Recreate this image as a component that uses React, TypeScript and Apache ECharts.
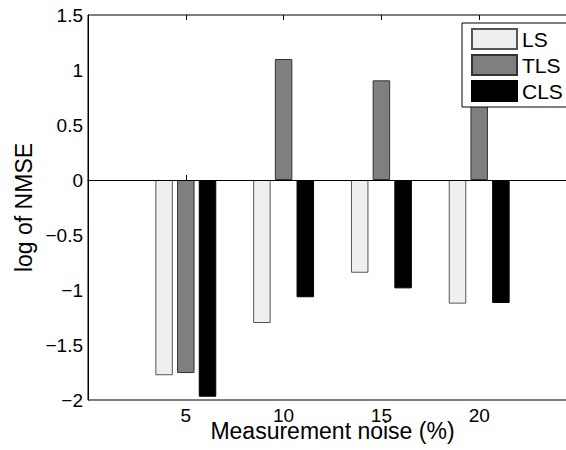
import React, { useEffect, useRef } from "react";
import * as echarts from "echarts";

const axisCategories = ["0", "5", "10", "15", "20", "25"];
const groupCategories = ["5", "10", "15", "20"];
const lsValues = [-1.775, -1.3, -0.843, -1.124];
const tlsValues = [-1.755, 1.1, 0.906, 0.8];
const clsValues = [-1.97, -1.066, -0.985, -1.118];
const yTicks = { min: -2, max: 1.5, interval: 0.5 };

const FONT = "'Liberation Sans', Arial, Helvetica, sans-serif";

function toAxisData(values: number[]) {
  return axisCategories.map((c) => {
    const i = groupCategories.indexOf(c);
    return i >= 0 ? values[i] : "-";
  });
}

const isInner = (index: number) => index !== 0 && index !== axisCategories.length - 1;

export default function App() {
  const ref = useRef<HTMLDivElement>(null);
  useEffect(() => {
    if (!ref.current) return;
    const chart = echarts.init(ref.current, undefined, { renderer: "svg" });
    const barBase = { type: "bar" as const, barWidth: 17.5, barGap: "24%" };
    chart.setOption({
      animation: false,
      backgroundColor: "#fff",
      grid: {
        left: 88,
        right: 23,
        top: 15,
        bottom: 50,
        outerBoundsMode: "none",
        containLabel: false,
        show: true,
        borderColor: "#000",
        borderWidth: 1,
        backgroundColor: "transparent",
      },
      legend: {
        orient: "vertical",
        left: 462,
        top: 23,
        padding: [5, 9, 5, 9],
        itemWidth: 45,
        itemHeight: 20,
        itemGap: 4,
        icon: "rect",
        backgroundColor: "#fff",
        borderColor: "#000",
        borderWidth: 1,
        borderRadius: 0,
        textStyle: { fontSize: 21, color: "#000", fontFamily: FONT },
        data: ["LS", "TLS", "CLS"],
      },
      xAxis: [
        {
          type: "category",
          data: axisCategories,
          boundaryGap: false,
          name: "Measurement noise (%)",
          nameLocation: "middle",
          nameGap: 23,
          nameMoveOverlap: false,
          nameTextStyle: { fontSize: 23, lineHeight: 15, color: "#000", fontFamily: FONT },
          axisLine: { show: true, lineStyle: { color: "#000", width: 1 } },
          axisTick: {
            show: true,
            inside: true,
            length: 5,
            interval: (index: number) => isInner(index),
            lineStyle: { color: "#000" },
          },
          axisLabel: {
            fontSize: 19,
            lineHeight: 13,
            color: "#000",
            fontFamily: FONT,
            margin: 9,
            interval: (index: number) => isInner(index),
          },
          splitLine: { show: false },
        },
        {
          type: "category",
          data: axisCategories,
          boundaryGap: false,
          position: "top",
          axisLine: { show: false },
          axisTick: {
            show: true,
            inside: true,
            length: 5,
            interval: (index: number) => isInner(index),
            lineStyle: { color: "#000" },
          },
          axisLabel: { show: false },
          splitLine: { show: false },
        },
      ],
      yAxis: {
        type: "value",
        min: yTicks.min,
        max: yTicks.max,
        interval: yTicks.interval,
        name: "log of NMSE",
        nameLocation: "middle",
        nameGap: 53,
        nameMoveOverlap: false,
        nameTextStyle: { fontSize: 23, color: "#000", fontFamily: FONT },
        axisLine: { show: true, lineStyle: { color: "#000", width: 1 } },
        axisTick: { show: false },
        splitLine: { show: false },
        axisLabel: {
          fontSize: 19,
          color: "#000",
          fontFamily: FONT,
          margin: 5,
          formatter: (v: number) => (v < 0 ? "\u2212" + String(Math.abs(v)) : String(v)),
        },
      },
      series: [
        {
          ...barBase,
          name: "LS",
          data: toAxisData(lsValues),
          itemStyle: { color: "#efefef", borderColor: "#555", borderWidth: 1 },
        },
        {
          ...barBase,
          name: "TLS",
          data: toAxisData(tlsValues),
          itemStyle: { color: "#7f7f7f", borderColor: "#333", borderWidth: 1 },
        },
        {
          ...barBase,
          name: "CLS",
          data: toAxisData(clsValues),
          itemStyle: { color: "#000", borderColor: "#000", borderWidth: 1 },
          markLine: {
            silent: true,
            symbol: "none",
            label: { show: false },
            lineStyle: { color: "#000", width: 1, type: "solid" },
            data: [{ yAxis: 0 }],
          },
        },
      ],
    });
    return () => chart.dispose();
  }, []);
  return (
    <div style={{ position: "fixed", left: 0, top: 0, width: 566, height: 450, overflow: "hidden", background: "#fff" }}>
      <div ref={ref} style={{ width: 600, height: 450 }} />
    </div>
  );
}
